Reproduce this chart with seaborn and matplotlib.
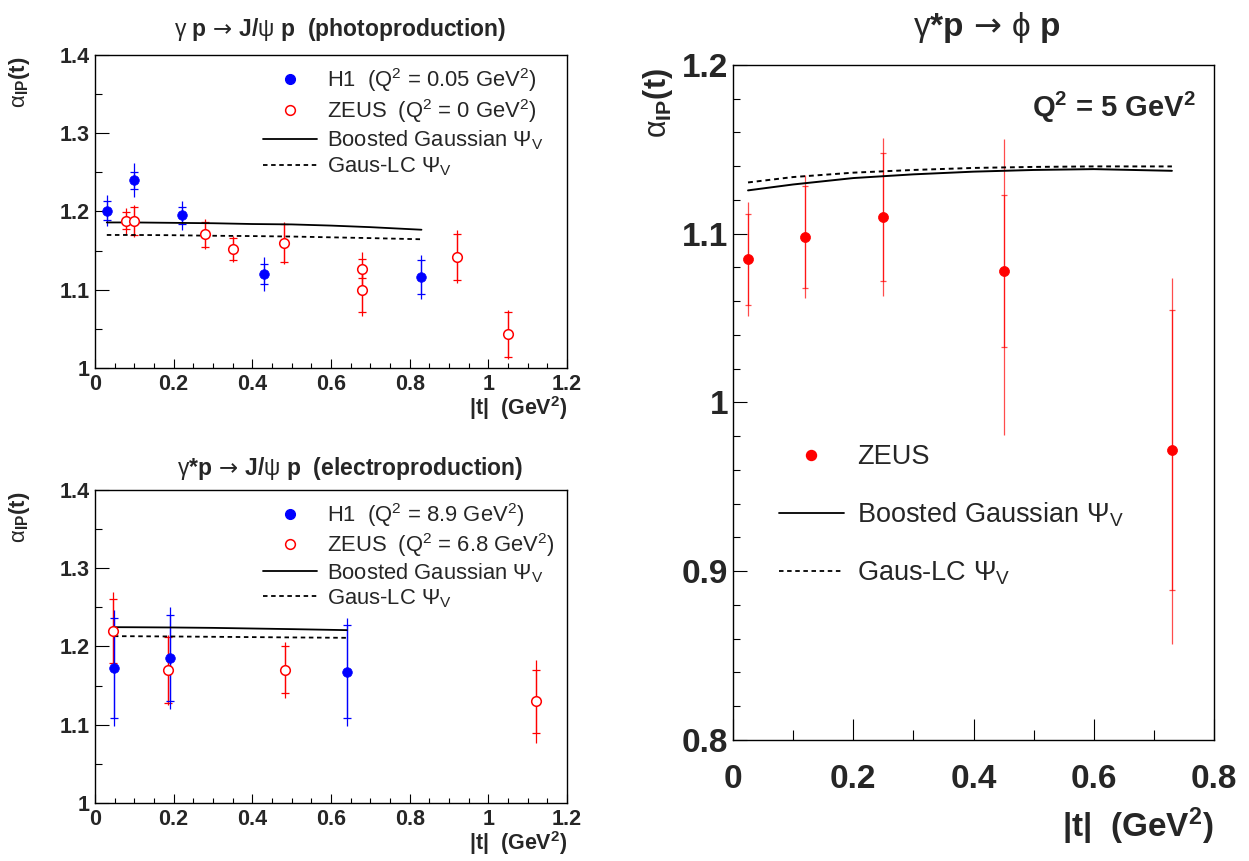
import numpy as np
import pandas as pd
import seaborn as sns
import matplotlib
matplotlib.use("Agg")
import matplotlib.pyplot as plt
from matplotlib.ticker import MultipleLocator, FuncFormatter
from matplotlib.lines import Line2D

# ---------------- data ----------------
# gamma p -> J/psi p (photoproduction)
photo_h1_t = [0.03, 0.10, 0.22, 0.43, 0.83]
photo_h1_alpha = [1.201, 1.240, 1.195, 1.120, 1.116]
photo_h1_stat = [0.012, 0.011, 0.011, 0.013, 0.022]
photo_h1_tot = [0.020, 0.022, 0.019, 0.022, 0.028]

photo_zeus_t = [0.08, 0.10, 0.28, 0.35, 0.48, 0.68, 0.68, 0.92, 1.05]
photo_zeus_alpha = [1.188, 1.188, 1.171, 1.152, 1.160, 1.127, 1.100, 1.142, 1.043]
photo_zeus_stat = [0.011, 0.018, 0.016, 0.014, 0.024, 0.012, 0.029, 0.029, 0.029]
photo_zeus_tot = [0.017, 0.020, 0.019, 0.017, 0.027, 0.021, 0.033, 0.034, 0.031]

photo_model_t = [0.03, 0.10, 0.20, 0.30, 0.40, 0.50, 0.60, 0.70, 0.83]
photo_boosted = [1.186, 1.186, 1.1855, 1.185, 1.184, 1.1835, 1.182, 1.180, 1.1767]
photo_gauslc = [1.170, 1.170, 1.1697, 1.169, 1.1686, 1.168, 1.167, 1.166, 1.1645]

# gamma* p -> J/psi p (electroproduction)
electro_h1_t = [0.048, 0.19, 0.64]
electro_h1_alpha = [1.173, 1.185, 1.168]
electro_h1_stat = [0.064, 0.055, 0.059]
electro_h1_tot = [0.074, 0.065, 0.069]

electro_zeus_t = [0.045, 0.185, 0.482, 1.122]
electro_zeus_alpha = [1.220, 1.170, 1.170, 1.130]
electro_zeus_stat = [0.041, 0.042, 0.030, 0.040]
electro_zeus_tot = [0.050, 0.045, 0.036, 0.053]

electro_model_t = [0.048, 0.10, 0.20, 0.30, 0.40, 0.50, 0.64]
electro_boosted = [1.2247, 1.2246, 1.2243, 1.2238, 1.2230, 1.2222, 1.2209]
electro_gauslc = [1.2132, 1.2131, 1.2128, 1.2124, 1.2120, 1.2116, 1.2111]

# gamma* p -> phi p, Q2 = 5 GeV2
phi_t = [0.025, 0.12, 0.25, 0.45, 0.73]
phi_alpha = [1.085, 1.098, 1.110, 1.078, 0.972]
phi_stat = [0.027, 0.030, 0.038, 0.045, 0.083]
phi_tot_up = [0.034, 0.037, 0.047, 0.078, 0.102]
phi_tot_down = [0.034, 0.036, 0.047, 0.097, 0.115]

phi_model_t = [0.025, 0.10, 0.20, 0.30, 0.40, 0.50, 0.60, 0.73]
phi_boosted = [1.1257, 1.1292, 1.1330, 1.1352, 1.1368, 1.1378, 1.1383, 1.1373]
phi_gauslc = [1.1304, 1.1336, 1.1362, 1.1378, 1.1390, 1.1396, 1.1399, 1.1399]

# ---------------- style ----------------
sns.set_theme(style="ticks")
plt.rcParams["font.family"] = ["Liberation Sans", "DejaVu Sans"]
plt.rcParams["mathtext.fontset"] = "custom"
plt.rcParams["mathtext.rm"] = "Liberation Sans"
plt.rcParams["mathtext.it"] = "Liberation Sans:italic"
plt.rcParams["mathtext.bf"] = "Liberation Sans:bold"
plt.rcParams["mathtext.sf"] = "DejaVu Sans"
plt.rcParams["axes.edgecolor"] = "black"
plt.rcParams["axes.linewidth"] = 1.0

BLUE = (0, 0, 1)
RED = (1, 0, 0)
DASH = (0, (2.5, 2.0))

W, H = 1249, 861
fig = plt.figure(figsize=(W / 100, H / 100), dpi=100)
fig.patch.set_facecolor("white")


def px_axes(left, top, right, bottom):
    return fig.add_axes([left / W, 1 - bottom / H, (right - left) / W, (bottom - top) / H])


ax_tl = px_axes(95, 55, 567, 368)
ax_bl = px_axes(95, 490, 567, 803)
ax_r = px_axes(733, 65, 1214, 740)

fmt = FuncFormatter(lambda v, p: f"{v:g}")


def style_axes(ax, xlim, ylim, xmaj, xmin, ymaj, ymin, fs, xlen, ylen, xpad, ypad):
    ax.set_xlim(*xlim)
    ax.set_ylim(*ylim)
    ax.xaxis.set_major_locator(MultipleLocator(xmaj))
    ax.xaxis.set_minor_locator(MultipleLocator(xmin))
    ax.yaxis.set_major_locator(MultipleLocator(ymaj))
    ax.yaxis.set_minor_locator(MultipleLocator(ymin))
    ax.xaxis.set_major_formatter(fmt)
    ax.yaxis.set_major_formatter(fmt)
    ax.tick_params(which="both", direction="in", top=False, right=False,
                   width=0.8, color="black")
    ax.tick_params(axis="x", which="major", length=xlen, pad=xpad, labelsize=fs)
    ax.tick_params(axis="x", which="minor", length=xlen / 2)
    ax.tick_params(axis="y", which="major", length=ylen, pad=ypad, labelsize=fs)
    ax.tick_params(axis="y", which="minor", length=ylen / 2)
    for lab in ax.get_xticklabels() + ax.get_yticklabels():
        lab.set_fontweight("bold")
    for sp in ax.spines.values():
        sp.set_visible(True)
        sp.set_color("black")
        sp.set_linewidth(1.0)
    ax.grid(False)
    ax.set_facecolor("white")


def draw_points(ax, t, a, stat, tot_lo, tot_hi, color, filled, s, cap, elw, ealpha=1.0):
    ax.errorbar(t, a, yerr=[tot_lo, tot_hi], fmt="none", ecolor=color,
                elinewidth=elw, capsize=0, alpha=ealpha, zorder=2)
    ax.errorbar(t, a, yerr=stat, fmt="none", ecolor=color, elinewidth=elw,
                capsize=cap, capthick=elw, alpha=ealpha, zorder=2)
    df = pd.DataFrame({"t": t, "alpha": a})
    if filled:
        sns.scatterplot(data=df, x="t", y="alpha", ax=ax, marker="o", s=s,
                        color=color, edgecolor=color, linewidth=0.5, zorder=4)
    else:
        sns.scatterplot(data=df, x="t", y="alpha", ax=ax, marker="o", s=s,
                        facecolors="white", edgecolor=color, linewidth=1.1, zorder=4)


def draw_models(ax, t, boosted, gauslc, lw):
    dfm = pd.DataFrame({"t": t, "boosted": boosted, "gauslc": gauslc})
    sns.lineplot(data=dfm, x="t", y="boosted", ax=ax, color="black", lw=lw, zorder=3)
    sns.lineplot(data=dfm, x="t", y="gauslc", ax=ax, color="black", lw=lw,
                 linestyle=DASH, zorder=3)


# ---------------- top-left: photoproduction ----------------
ax = ax_tl
draw_models(ax, photo_model_t, photo_boosted, photo_gauslc, 1.3)
draw_points(ax, photo_h1_t, photo_h1_alpha, photo_h1_stat, photo_h1_tot, photo_h1_tot,
            BLUE, True, 48, 3.0, 0.9)
draw_points(ax, photo_zeus_t, photo_zeus_alpha, photo_zeus_stat, photo_zeus_tot, photo_zeus_tot,
            RED, False, 48, 3.0, 0.9)

# ---------------- bottom-left: electroproduction ----------------
ax = ax_bl
draw_models(ax, electro_model_t, electro_boosted, electro_gauslc, 1.3)
draw_points(ax, electro_zeus_t, electro_zeus_alpha, electro_zeus_stat, electro_zeus_tot,
            electro_zeus_tot, RED, False, 48, 3.0, 0.9)
draw_points(ax, electro_h1_t, electro_h1_alpha, electro_h1_stat, electro_h1_tot, electro_h1_tot,
            BLUE, True, 48, 3.0, 0.9)

# ---------------- right: phi ----------------
ax = ax_r
draw_models(ax, phi_model_t, phi_boosted, phi_gauslc, 1.4)
draw_points(ax, phi_t, phi_alpha, phi_stat, phi_tot_down, phi_tot_up,
            RED, True, 52, 2.0, 0.9, ealpha=0.7)

small = 15.5
style_axes(ax_tl, (0, 1.2), (1.0, 1.4), 0.2, 0.05, 0.1, 0.05, small, 6.7, 10, 4, 3.6)
style_axes(ax_bl, (0, 1.2), (1.0, 1.4), 0.2, 0.05, 0.1, 0.05, small, 6.7, 10, 4, 3.6)
style_axes(ax_r, (0, 0.8), (0.8, 1.2), 0.2, 0.1, 0.1, 0.02, 24, 14.9, 10, 17, 3.6)

ARROW = r"$\mathsf{\,\rightarrow\,}$"
# labels
for a_, title, tx, ty in [
    (ax_tl, r"$\mathrm{\gamma}$ p" + ARROW + r"J/$\mathrm{\psi}$ p  (photoproduction)", 0.519, 1.080),
    (ax_bl, r"$\mathrm{\gamma}$*p" + ARROW + r"J/$\mathrm{\psi}$ p  (electroproduction)", 0.540, 1.070),
]:
    a_.text(tx, ty, title, transform=a_.transAxes, ha="center", va="center",
            fontsize=16.5, fontweight="bold")
    a_.set_xlabel(r"|t|  (GeV$^{\mathbf{2}}$)", fontsize=15.5, fontweight="bold", loc="right")
    a_.xaxis.set_label_coords(1.0, -0.084)
    a_.set_ylabel(r"$\mathrm{\alpha}_{\mathbf{IP}}$(t)", fontsize=16, fontweight="bold", loc="top")
    a_.yaxis.set_label_coords(-0.1335, 0.995)

ax_r.text(0.528, 1.056, r"$\mathrm{\gamma}$*p" + ARROW + r"$\mathrm{\phi}$ p",
          transform=ax_r.transAxes, ha="center", va="center", fontsize=24, fontweight="bold")
ax_r.set_xlabel(r"|t|  (GeV$^{\mathbf{2}}$)", fontsize=24, fontweight="bold", loc="right")
ax_r.xaxis.set_label_coords(1.0, -0.0963)
ax_r.set_ylabel(r"$\mathrm{\alpha}_{\mathbf{IP}}$(t)", fontsize=22, fontweight="bold", loc="top")
ax_r.yaxis.set_label_coords(-0.1206, 0.996)
ax_r.text(0.9626, 0.923, r"Q$^{\mathbf{2}}$ = 5 GeV$^{\mathbf{2}}$", transform=ax_r.transAxes,
          ha="right", va="baseline", fontsize=21, fontweight="bold")

# legends
h_h1 = Line2D([], [], marker="o", linestyle="none", markersize=7, color=BLUE)
h_zeus_open = Line2D([], [], marker="o", linestyle="none", markersize=7,
                     markerfacecolor="white", markeredgecolor=RED, markeredgewidth=1.1)
h_zeus_fill = Line2D([], [], marker="o", linestyle="none", markersize=7.2, color=RED)
h_bg = Line2D([], [], color="black", lw=1.3)
h_lc = Line2D([], [], color="black", lw=1.3, linestyle=DASH)

psi_v = r"$\mathrm{\Psi}_{\mathrm{V}}$"
leg_kw = dict(frameon=False, loc="upper left", borderpad=0, borderaxespad=0, numpoints=1)
ax_tl.legend([h_h1, h_zeus_open, h_bg, h_lc],
             [r"H1  (Q$^2$ = 0.05 GeV$^2$)", r"ZEUS  (Q$^2$ = 0 GeV$^2$)",
              "Boosted Gaussian " + psi_v, "Gaus-LC " + psi_v],
             bbox_to_anchor=(0.3559, 0.965), fontsize=15.8, handlelength=2.46,
             handletextpad=0.46, labelspacing=0.15, **leg_kw)
ax_bl.legend([h_h1, h_zeus_open, h_bg, h_lc],
             [r"H1  (Q$^2$ = 8.9 GeV$^2$)", r"ZEUS  (Q$^2$ = 6.8 GeV$^2$)",
              "Boosted Gaussian " + psi_v, "Gaus-LC " + psi_v],
             bbox_to_anchor=(0.3559, 0.965), fontsize=15.8, handlelength=2.46,
             handletextpad=0.46, labelspacing=0.1, **leg_kw)
ax_r.legend([h_zeus_fill, h_bg, h_lc],
            ["ZEUS", "Boosted Gaussian " + psi_v, "Gaus-LC " + psi_v],
            bbox_to_anchor=(0.0956, 0.4385), fontsize=19.5, handlelength=2.4,
            handletextpad=0.48, labelspacing=1.13, **leg_kw)

fig.savefig("out.png", dpi=100, facecolor="white")
